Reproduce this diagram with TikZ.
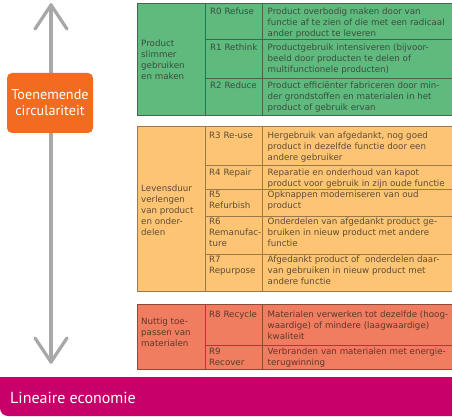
\documentclass[tikz,border=0pt]{standalone}
\usepackage{fontspec}
\setmainfont{DejaVu Sans}
\newfontfamily\labelfont{PT Sans}
\definecolor{tgreen}{HTML}{5FBA7D}
\definecolor{tyellow}{HTML}{FDC573}
\definecolor{tred}{HTML}{F07D5F}
\definecolor{gborder}{HTML}{4A6250}
\definecolor{yborder}{HTML}{9C7A45}
\definecolor{rborder}{HTML}{8E4A38}
\definecolor{gtext}{HTML}{3A4E40}
\definecolor{ytext}{HTML}{5E4C36}
\definecolor{rtext}{HTML}{5E382C}
\definecolor{lmag}{HTML}{C80069}
\definecolor{lorange}{HTML}{F36A21}
\definecolor{axisgray}{HTML}{A8A8A8}
\newcommand{\fl}{\rule{0pt}{7.3pt}}
\begin{document}
\begin{tikzpicture}[x=1pt,y=-1pt,
  axisline/.style={draw=axisgray,line width=3.2pt,line cap=round,line join=round},
  cell/.style={anchor=north west,inner sep=0pt,align=left,font=\fontsize{8.7}{11}\selectfont},
  groupcell/.style={anchor=west,inner sep=0pt,align=left,font=\fontsize{8.7}{11}\selectfont},
  gline/.style={draw=gborder,line width=0.9pt},
  yline/.style={draw=yborder,line width=0.9pt},
  rline/.style={draw=rborder,line width=0.9pt},
  circlabel/.style={fill=lorange,rounded corners=5pt,minimum width=86pt,minimum height=60pt,
    inner sep=0pt,text=white,align=center,font=\labelfont\fontsize{14.2}{16}\selectfont},
  barlabel/.style={anchor=west,inner sep=0pt,text=white,font=\labelfont\fontsize{16}{18}\selectfont}
]
\useasboundingbox (0,0) rectangle (452,419);
\clip (0,0) rectangle (452,419);

% vertical axis with open arrowheads
\coordinate (atop) at (51,5);
\coordinate (abot) at (51,362);
\draw[axisline] (atop) -- (abot);
\draw[axisline] (atop) ++(-16,24) -- (atop) -- ++(16,24);
\draw[axisline] (abot) ++(-16,-24) -- (abot) -- ++(16,-24);

% label on axis
\node[circlabel] (circ) at (50,103) {Toenemende\\circulariteit};

% ---------------- green table
\fill[tgreen] (137,3) rectangle (460,115);
\draw[gline] (460,3) -- (137,3) -- (137,115) -- (460,115);
\draw[gline] (205,3) -- (205,115);
\draw[gline] (262.5,3) -- (262.5,115);
\draw[gline] (205,39.3) -- (460,39.3);
\draw[gline] (205,78.7) -- (460,78.7);
\begin{scope}[text=gtext]
\node[groupcell] (g0) at (141,59.5) {Product\\slimmer\\gebruiken\\en maken};
\node[cell] (r0) at (210,7.4) {\fl R0 Refuse};
\node[cell] (d0) at (267.5,7.4) {\fl Product overbodig maken door van\\functie af te zien of die met een radicaal\\ander product te leveren};
\node[cell] (r1) at (210,43.1) {\fl R1 Rethink};
\node[cell] (d1) at (267.5,43.1) {\fl Productgebruik intensiveren (bijvoor-\\beeld door producten te delen of\\multifunctionele producten)};
\node[cell] (r2) at (210,81.1) {\fl R2 Reduce};
\node[cell] (d2) at (267.5,81.1) {\fl Product efficiënter fabriceren door min-\\der grondstoffen en materialen in het\\product of gebruik ervan};
\end{scope}

% ---------------- yellow table
\fill[tyellow] (137,126) rectangle (460,291);
\draw[yline] (460,126) -- (137,126) -- (137,291) -- (460,291);
\draw[yline] (205,126) -- (205,291);
\draw[yline] (262.5,126) -- (262.5,291);
\draw[yline] (205,165.5) -- (460,165.5);
\draw[yline] (205,189) -- (460,189);
\draw[yline] (205,216.5) -- (460,216.5);
\draw[yline] (205,254) -- (460,254);
\begin{scope}[text=ytext]
\node[groupcell] (g1) at (141,210) {Levensduur\\verlengen\\van product\\en onder-\\delen};
\node[cell] (r3) at (209,131.4) {\fl R3 Re-use};
\node[cell] (d3) at (267.5,131.4) {\fl Hergebruik van afgedankt, nog goed\\product in dezelfde functie door een\\andere gebruiker};
\node[cell] (r4) at (209,168.4) {\fl R4 Repair};
\node[cell] (d4) at (267.5,168.4) {\fl Reparatie en onderhoud van kapot\\product voor gebruik in zijn oude functie};
\node[cell] (r5) at (209,190.4) {\fl R5\\Refurbish};
\node[cell] (d5) at (267.5,190.4) {\fl Opknappen moderniseren van oud\\product};
\node[cell] (r6) at (209,217.1) {\fl R6\\Remanufac-\\ture};
\node[cell] (d6) at (267.5,217.1) {\fl Onderdelen van afgedankt product ge-\\bruiken in nieuw product met andere\\functie};
\node[cell] (r7) at (209,255.4) {\fl R7\\Repurpose};
\node[cell] (d7) at (267.5,255.4) {\fl Afgedankt product of\ \ onderdelen daar-\\van gebruiken in nieuw product met\\andere functie};
\end{scope}

% ---------------- red table
\fill[tred] (137,304) rectangle (460,369);
\draw[rline] (460,304) -- (137,304) -- (137,369) -- (460,369);
\draw[rline] (205,304) -- (205,369);
\draw[rline] (262.5,304) -- (262.5,369);
\draw[rline] (205,345) -- (460,345);
\begin{scope}[text=rtext]
\node[groupcell] (g2) at (141,332) {Nuttig toe-\\passen van\\materialen};
\node[cell] (r8) at (209,310.4) {\fl R8 Recycle};
\node[cell] (d8) at (267.5,310.4) {\fl Materialen verwerken tot dezelfde (hoog-\\waardige) of mindere (laagwaardige)\\kwaliteit};
\node[cell] (r9) at (209,347.1) {\fl R9\\Recover};
\node[cell] (d9) at (267.5,347.1) {\fl Verbranden van materialen met energie-\\terugwinning};
\end{scope}

% ---------------- bottom bar
\fill[lmag,rounded corners=8pt] (0,377) rectangle (480,416);
\fill[lmag] (0,377) rectangle (20,392);
\node[barlabel] (lin) at (10,397.5) {Lineaire economie};
\end{tikzpicture}
\end{document}
